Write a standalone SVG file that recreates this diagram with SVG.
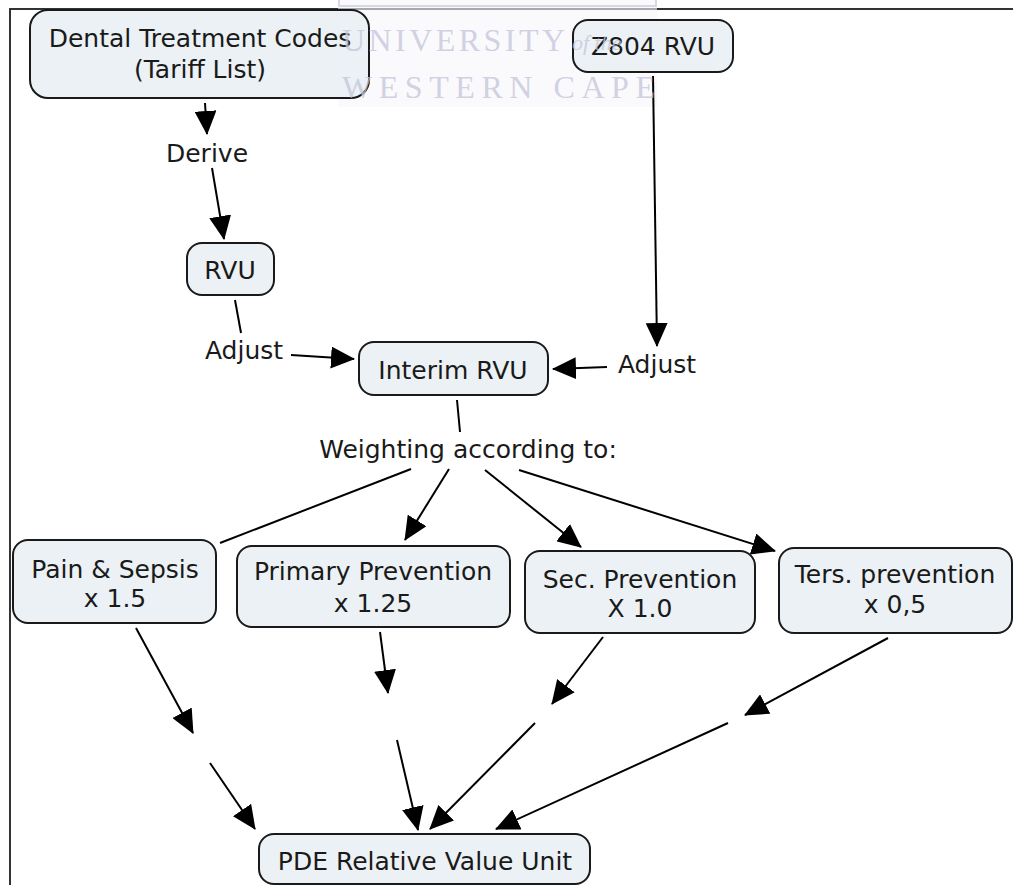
<svg xmlns="http://www.w3.org/2000/svg" width="1013" height="885" viewBox="0 0 1013 885">
<defs>
<marker id="ah" markerUnits="userSpaceOnUse" markerWidth="24" markerHeight="22" refX="23" refY="11" orient="auto">
<path d="M0,0 L24,11 L0,22 z" fill="#000"/>
</marker>
<style>
.node rect{fill:#ebf1f4;stroke:#1a1a1a;stroke-width:2}
.t{font-family:"DejaVu Sans",Verdana,sans-serif;font-size:25px;fill:#1a1a1a;text-anchor:middle}
.c line{stroke:#000;stroke-width:2}
.a{marker-end:url(#ah)}
.wm{font-family:"Liberation Serif","Times New Roman",serif;fill:#c4c4da}
</style>
</defs>
<rect width="1013" height="885" fill="#fff"/>
<g id="frame" fill="none" stroke="#333" stroke-width="2">
<path d="M10,885 V9 H1013"/>
</g>
<g id="watermark-bg">
<rect x="338" y="0" width="319" height="107" fill="#f7f7fb" opacity="0.6"/>
<rect x="339" y="-4" width="317" height="10" fill="none" stroke="#d8d8e8" stroke-width="2"/>
</g>
<g class="c" id="connectors">
<line class="a" x1="205" y1="103" x2="207" y2="134"/>
<line class="a" x1="212" y1="168" x2="224" y2="239"/>
<line x1="235" y1="300" x2="241" y2="333"/>
<line class="a" x1="291" y1="355" x2="354" y2="359"/>
<line class="a" x1="653" y1="76" x2="657" y2="346"/>
<line class="a" x1="607" y1="367" x2="553" y2="369"/>
<line x1="457" y1="400" x2="460" y2="432"/>
<line x1="411" y1="469" x2="220" y2="543"/>
<line class="a" x1="449" y1="469" x2="405" y2="540"/>
<line class="a" x1="485" y1="470" x2="581" y2="547"/>
<line class="a" x1="519" y1="470" x2="775" y2="551"/>
<line class="a" x1="136" y1="628" x2="193" y2="733"/>
<line class="a" x1="210" y1="763" x2="255" y2="829"/>
<line class="a" x1="380" y1="632" x2="388" y2="693"/>
<line class="a" x1="397" y1="740" x2="418" y2="830"/>
<line class="a" x1="603" y1="637" x2="552" y2="704"/>
<line class="a" x1="535" y1="723" x2="430" y2="829"/>
<line class="a" x1="888" y1="638" x2="745" y2="715"/>
<line class="a" x1="728" y1="723" x2="496" y2="829"/>
</g>
<g id="n-dental" class="node">
<rect x="30" y="10" width="339" height="88" rx="18"/>
<text class="t" x="200" y="47">Dental Treatment Codes</text>
<text class="t" x="200" y="78">(Tariff List)</text>
</g>
<g id="n-z804" class="node">
<rect x="573" y="20" width="160" height="52" rx="15"/>
<text class="t" x="653" y="55">Z804 RVU</text>
</g>
<g id="n-rvu" class="node">
<rect x="187" y="243" width="87" height="52" rx="15"/>
<text class="t" x="230" y="279">RVU</text>
</g>
<g id="n-interim" class="node">
<rect x="359" y="342" width="189" height="53" rx="15"/>
<text class="t" x="453" y="379">Interim RVU</text>
</g>
<g id="n-pain" class="node">
<rect x="13" y="540" width="203" height="83" rx="15"/>
<text class="t" x="115" y="578">Pain &amp; Sepsis</text>
<text class="t" x="115" y="607">x 1.5</text>
</g>
<g id="n-primary" class="node">
<rect x="237" y="546" width="273" height="81" rx="15"/>
<text class="t" x="373" y="580">Primary Prevention</text>
<text class="t" x="373" y="612">x 1.25</text>
</g>
<g id="n-sec" class="node">
<rect x="525" y="551" width="230" height="82" rx="15"/>
<text class="t" x="640" y="588">Sec. Prevention</text>
<text class="t" x="640" y="617">X 1.0</text>
</g>
<g id="n-ters" class="node">
<rect x="779" y="548" width="233" height="85" rx="15"/>
<text class="t" x="895" y="583">Ters. prevention</text>
<text class="t" x="895" y="613">x 0,5</text>
</g>
<g id="n-pde" class="node">
<rect x="259" y="834" width="331" height="50" rx="15"/>
<text class="t" x="425" y="870">PDE Relative Value Unit</text>
</g>
<g id="labels">
<text class="t" x="207" y="162">Derive</text>
<text class="t" x="244" y="359">Adjust</text>
<text class="t" x="657" y="373">Adjust</text>
<text class="t" x="468" y="458">Weighting according to:</text>
</g>
<g id="watermark" opacity="0.75">
<text class="wm" x="342" y="51" font-size="32" textLength="223" lengthAdjust="spacing">UNIVERSITY</text>
<text class="wm" x="572" y="50" font-size="22" font-style="italic">of the</text>
<text class="wm" x="342" y="98" font-size="32" textLength="313" lengthAdjust="spacing">WESTERN CAPE</text>
</g>
</svg>
